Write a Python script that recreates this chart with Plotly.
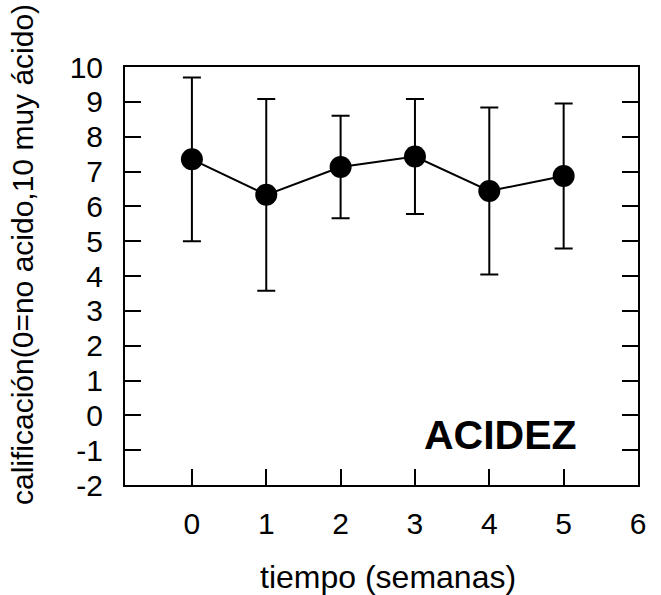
import plotly.graph_objects as go

semanas = [0, 1, 2, 3, 4, 5]
acidez = [7.35, 6.33, 7.13, 7.43, 6.44, 6.87]
error = [2.35, 2.75, 1.47, 1.65, 2.40, 2.08]
x_ticks = [0, 1, 2, 3, 4, 5, 6]
y_ticks = list(range(-2, 11))
y_ticktext = [str(v).replace("\u2212", "-") for v in y_ticks]

FONT = "Liberation Sans, Arial, sans-serif"

fig = go.Figure()
fig.add_trace(go.Scatter(
    x=semanas, y=acidez, mode="lines+markers",
    line=dict(color="black", width=2),
    marker=dict(color="black", size=22),
    error_y=dict(type="data", array=error, visible=True, color="black",
                 thickness=2, width=9),
    showlegend=False,
))

fig.update_layout(
    width=661, height=595,
    margin=dict(l=125, r=23, t=67, b=110),
    paper_bgcolor="white", plot_bgcolor="white",
    font=dict(family=FONT, color="black", size=30),
    xaxis=dict(range=[-0.9, 6.0], tickvals=x_ticks, ticks="inside", ticklen=16,
               tickwidth=2, tickcolor="black", showline=True, linecolor="black",
               linewidth=2, mirror=True, showgrid=False, zeroline=False,
               ticklabelstandoff=11, tickfont=dict(size=30)),
    yaxis=dict(range=[-2, 10], tickvals=y_ticks, ticktext=y_ticktext,
               ticks="inside", ticklen=16,
               tickwidth=2, tickcolor="black", showline=True, linecolor="black",
               linewidth=2, mirror="ticks", showgrid=False, zeroline=False,
               ticklabelstandoff=14, tickfont=dict(size=30)),
    annotations=[
        dict(text="<b>ACIDEZ</b>", x=4.15, y=-0.57, xref="x", yref="y",
             showarrow=False, font=dict(size=41, family=FONT, color="black")),
        dict(text="tiempo (semanas)", x=388, y=577, xref="paper", yref="paper",
             showarrow=False, font=dict(size=32, family=FONT, color="black")),
        dict(text="calificación(0=no acido,10 muy ácido)", x=22, y=255,
             xref="paper", yref="paper", textangle=-90, showarrow=False,
             font=dict(size=30, family=FONT, color="black")),
    ],
)

# convert pixel positions of the titles to paper coordinates
pw = 661 - 125 - 23
ph = 595 - 67 - 110
for ann in fig.layout.annotations[1:]:
    ann.x = (ann.x - 125) / pw
    ann.y = (595 - 110 - ann.y) / ph
    ann.xanchor = "center"
    ann.yanchor = "middle"

fig.write_html("out.html")
